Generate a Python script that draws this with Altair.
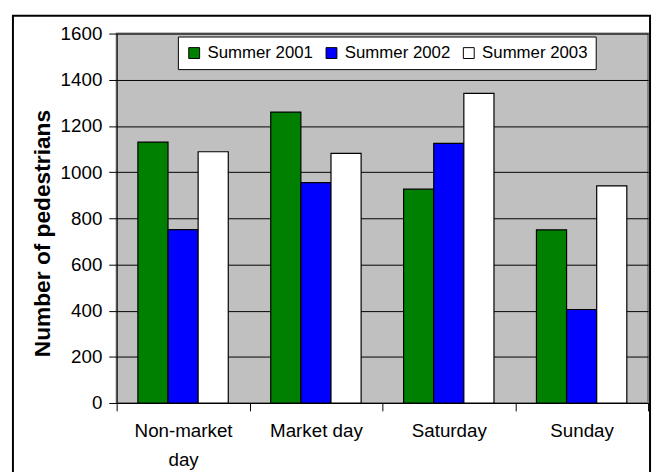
import altair as alt
import pandas as pd

days = ["Non-market day", "Market day", "Saturday", "Sunday"]
series = ["Summer 2001", "Summer 2002", "Summer 2003"]
s2001 = [1130, 1260, 926, 750]
s2002 = [751, 954, 1124, 405]
s2003 = [1088, 1081, 1341, 940]
colors = ["#008000", "#0000FF", "#FFFFFF"]
y_ticks = [0, 200, 400, 600, 800, 1000, 1200, 1400, 1600]

rows = []
for s, vals in zip(series, [s2001, s2002, s2003]):
    for d, v in zip(days, vals):
        rows.append({"day": d, "series": s, "value": v})
df = pd.DataFrame(rows)

FONT = "Liberation Sans"
W, H = 538, 374

bars = alt.Chart(df).mark_bar(stroke="black", strokeWidth=1.2).encode(
    x=alt.X("day:N", sort=days, title=None,
            scale=alt.Scale(paddingInner=0, paddingOuter=0),
            axis=alt.Axis(tickBand="extent", labelAngle=0, labelFontSize=19,
                          labelColor="black", tickColor="black", tickSize=8,
                          domainColor="black", labelPadding=11,
                          labelLineHeight=29, grid=False,
                          labelExpr="datum.label == 'Non-market day' ? ['Non-market', 'day'] : datum.label")),
    xOffset=alt.XOffset("series:N", sort=series,
                        scale=alt.Scale(paddingInner=0, paddingOuter=0.705)),
    y=alt.Y("value:Q", title="Number of pedestrians",
            scale=alt.Scale(domain=[0, 1600], nice=False),
            axis=alt.Axis(values=y_ticks, format="d", labelFontSize=19, labelColor="black",
                          tickColor="black", tickSize=8, labelPadding=7,
                          domainColor="black", gridColor="black", gridWidth=1,
                          titleFontSize=23, titleFontWeight="bold",
                          titleColor="black", titleAngle=270,
                          titleAlign="center", titleBaseline="middle",
                          titleX=-75, titleY=202)),
    color=alt.Color("series:N", sort=series,
                    scale=alt.Scale(domain=series, range=colors),
                    legend=alt.Legend(title=None, orient="none", direction="horizontal",
                                      legendX=62, legendY=3, columns=3,
                                      fillColor="white", strokeColor="black",
                                      padding=8, columnPadding=10,
                                      symbolType="square", symbolSize=121,
                                      symbolStrokeColor="black", symbolStrokeWidth=1,
                                      symbolOpacity=1, symbolOffset=0,
                                      labelFontSize=17, labelColor="black",
                                      labelOffset=5)),
)

border = alt.Chart(alt.Data(values=[{"a": 1}])).mark_rect(
    fill=None, stroke="black", strokeWidth=2
).encode(
    x=alt.value(-105), x2=alt.value(540), y=alt.value(-18), y2=alt.value(460)
)

chart = alt.layer(bars, border).properties(
    width=W, height=H,
    autosize=alt.AutoSizeParams(type="none"),
    padding={"left": 110, "top": 23, "right": 5, "bottom": 67},
).configure(font=FONT).configure_view(
    fill="#C0C0C0", stroke="#808080", strokeWidth=2
).configure_axis(domainWidth=1, tickWidth=1)

chart.save("out.html", embed_options={"renderer": "svg", "actions": False})
